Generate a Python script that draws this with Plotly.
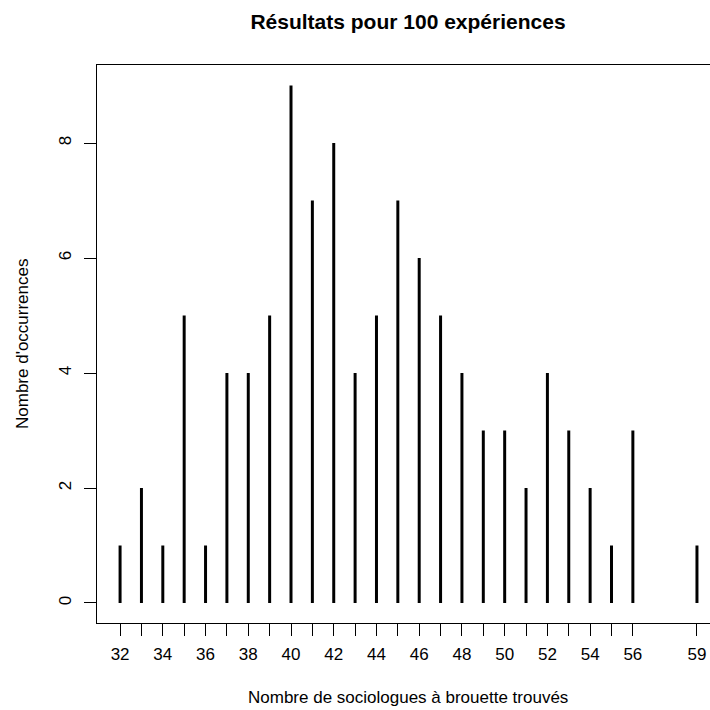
import plotly.graph_objects as go

# Data
values = [32, 33, 34, 35, 36, 37, 38, 39, 40, 41, 42, 43, 44, 45, 46, 47, 48,
          49, 50, 51, 52, 53, 54, 55, 56, 59]
counts = [1, 2, 1, 5, 1, 4, 4, 5, 9, 7, 8, 4, 5, 7, 6, 5, 4,
          3, 3, 2, 4, 3, 2, 1, 3, 1]
x_tick_labels = ["32", "", "34", "", "36", "", "38", "", "40", "", "42", "", "44", "",
                 "46", "", "48", "", "50", "", "52", "", "54", "", "56", "59"]
y_ticks = [0, 2, 4, 6, 8]

title = "Résultats pour 100 expériences"
x_title = "Nombre de sociologues à brouette trouvés"
y_title = "Nombre d'occurrences"

FONT = "Liberation Sans, Arial, Helvetica, sans-serif"
W, H = 710, 710

fig = go.Figure()
fig.add_trace(go.Bar(x=values, y=counts, width=0.14,
                     marker=dict(color="black", line=dict(width=0))))

fig.update_layout(
    width=W, height=H,
    margin=dict(l=97, r=0, t=65, b=87),
    paper_bgcolor="white", plot_bgcolor="white",
    showlegend=False,
    font=dict(family=FONT, size=17, color="black"),
    title=dict(text="<b>" + title + "</b>", x=408 / W, xanchor="center", xref="container",
               y=1 - 22 / H, yanchor="middle", yref="container",
               font=dict(size=21, family=FONT, color="black")),
)
fig.update_xaxes(range=[30.92, 59.61], tickmode="array", tickvals=values,
                 ticktext=x_tick_labels, ticks="outside", ticklen=12, tickwidth=1,
                 tickcolor="black", showline=True, linecolor="black", linewidth=1,
                 mirror=True, showgrid=False, zeroline=False,
                 tickfont=dict(size=17, family=FONT), ticklabelstandoff=4,
                 ticklabeloverflow="allow")
fig.update_yaxes(range=[-0.348, 9.357], tickmode="array", tickvals=y_ticks,
                 ticks="outside", ticklen=12, tickwidth=1, tickcolor="black",
                 showline=True, linecolor="black", linewidth=1, mirror=False,
                 showgrid=False, zeroline=False, tickangle=-90,
                 tickfont=dict(size=17, family=FONT), ticklabelstandoff=6)

fig.add_annotation(text=x_title, xref="paper", yref="paper", x=(408 - 97) / 613,
                   y=-(697 - 623) / 558, xanchor="center", yanchor="middle",
                   showarrow=False, font=dict(size=17, family=FONT))
fig.add_annotation(text=y_title, xref="paper", yref="paper", x=-(97 - 22) / 613,
                   y=0.5, xanchor="center", yanchor="middle", textangle=-90,
                   showarrow=False, font=dict(size=17, family=FONT))

fig.write_html("out.html",
               config={"displayModeBar": False, "staticPlot": True},
               post_script="document.body.style.margin='0';document.body.style.overflow='hidden';")
